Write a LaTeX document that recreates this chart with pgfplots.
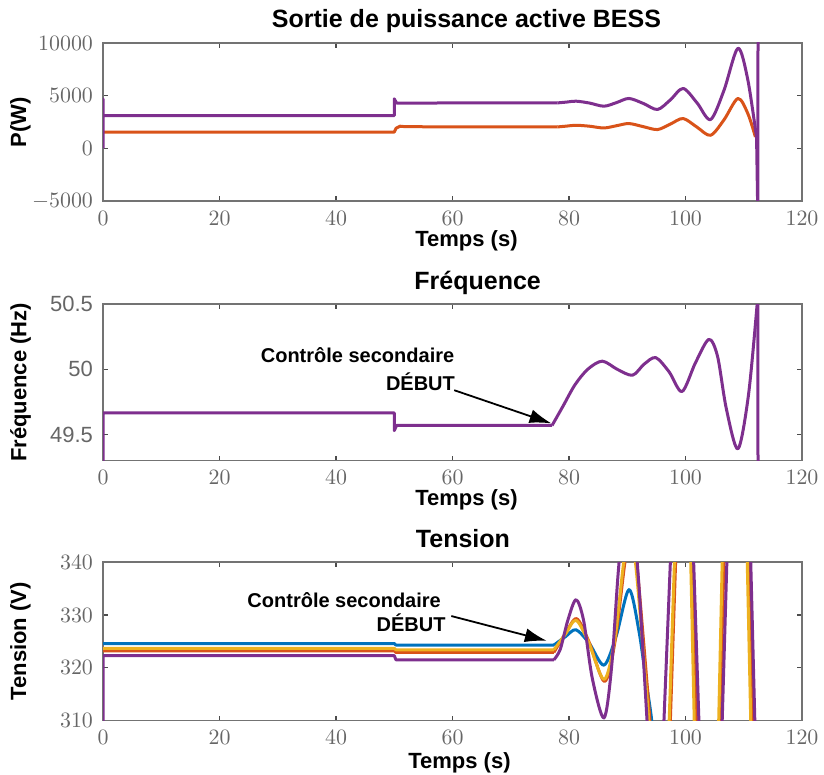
\documentclass[border=0pt]{standalone}
\usepackage{fontspec}
\setmainfont{Liberation Sans}
\usepackage{pgfplots}
\pgfplotsset{compat=1.18}
\usetikzlibrary{arrows.meta}
\definecolor{mblue}{rgb}{0,0.447,0.741}
\definecolor{morange}{rgb}{0.85,0.325,0.098}
\definecolor{myellow}{rgb}{0.929,0.694,0.125}
\definecolor{mpurple}{rgb}{0.494,0.184,0.556}
\tikzset{ann/.style={font=\bfseries\fontsize{10}{12}\selectfont, align=center}}
\pgfplotsset{
  mstyle/.style={
    scale only axis, width=349.5pt,
    xmin=0, xmax=120, xtick={0,20,...,120},
    axis line style={black!55, line width=0.8pt},
    tick style={black!70, line width=0.6pt}, major tick length=2.5pt,
    tick align=inside,
    ticklabel style={font=\fontsize{11}{13}\selectfont, text=black!60},
    xticklabel style={yshift=-1.5pt},
    yticklabel style={xshift=-1.5pt},
    scaled y ticks=false,
    /pgf/number format/set thousands separator={},
    xlabel={Temps (s)},
    label style={font=\bfseries\fontsize{11}{13}\selectfont},
    xlabel style={at={(axis description cs:0.52,-0.285)}, anchor=base},
    ylabel style={at={(axis description cs:-0.118,0.5)}, anchor=center, rotate=0},
    title style={font=\bfseries\fontsize{12.5}{14}\selectfont, anchor=base},
    every axis plot/.append style={line width=1.5pt, line join=round},
  },
}
\begin{document}
\begin{tikzpicture}
\useasboundingbox (0,0) rectangle (412pt,387.5pt);
% ---------------- Top: power ----------------
\begin{axis}[mstyle, at={(51.5pt,287pt)}, anchor=south west, height=79pt,
  ymin=-5000, ymax=10000, ytick={-5000,0,5000,10000},
  ylabel={P(W)},
  title={Sortie de puissance active BESS},
  title style={at={(axis description cs:0.52,1.02)}}]
\addplot[morange] coordinates {(0,1540) (50,1540) (50.3,1900) (51,2100) (52,2050) (78,2030)};
\addplot[morange, smooth] coordinates {(78,2030) (79.6,2110) (81.2,2190) (83.5,2100) (86,1933) (88.2,2150) (90.3,2352) (92.8,2050) (95.2,1781) (97.4,2300) (99.6,2829) (102,2000) (104.3,1238) (106.6,2700) (109,4733) (110.7,3300) (112,1076)};
\addplot[mpurple] coordinates {(0,0) (0,4700) (0,3100) (50,3100) (50,4700) (50.4,4300) (78,4310)};
\addplot[mpurple, smooth] coordinates {(78,4310) (79.6,4390) (81.2,4476) (83.5,4300) (86,4000) (88.2,4350) (90.3,4733) (92.8,4250) (95.2,3686) (97.4,4600) (99.6,5686) (102,4300) (104.3,2733) (106.6,5500) (109,9495) (110.7,6500) (112.2,1000)};
\addplot[mpurple] coordinates {(112.2,1000) (112.4,-6000) (112.45,11000)};
\end{axis}
% ---------------- Middle: frequency ----------------
\begin{axis}[mstyle, at={(51.5pt,157.2pt)}, anchor=south west, height=78.2pt,
  ymin=49.3, ymax=50.5, ytick={49.5,50,50.5},
  yticklabels={49.5,50,50.5},
  ylabel={Fréquence (Hz)},
  title={Fréquence},
  title style={at={(axis description cs:0.536,1.02)}}]
\addplot[mpurple] coordinates {(0,49.2) (0,49.667) (50,49.667) (50,49.53) (50.4,49.57) (77.1,49.57)};
\addplot[mpurple, smooth] coordinates {(77.1,49.57) (79,49.72) (81,49.88) (83.2,50.0) (85.7,50.063) (88.3,50.0) (90.9,49.955) (92.9,50.04) (94.9,50.09) (97.2,49.98) (99.4,49.83) (101.7,50.05) (104,50.23) (105.5,50.1) (107,49.7) (109,49.39) (110.8,49.8) (112.3,50.5) (112.4,50.6)};
\addplot[mpurple] coordinates {(112.4,50.6) (112.45,49.2)};
\node[ann] at (axis cs:43.7,50.11) {Contrôle secondaire};
\node[ann] at (axis cs:54.5,49.905) {DÉBUT};
\draw[black, line width=0.9pt, -{Latex[length=11pt,width=7pt]}] (axis cs:60.3,49.84) -- (axis cs:77.0,49.585);
\end{axis}
% ---------------- Bottom: voltage ----------------
\begin{axis}[mstyle, at={(51.5pt,27.2pt)}, anchor=south west, height=79.2pt,
  ymin=310, ymax=340, ytick={310,320,330,340},
  ylabel={Tension (V)},
  title={Tension},
  xlabel style={at={(axis description cs:0.51,-0.3)}},
  title style={at={(axis description cs:0.515,1.02)}}]
% blue
\addplot[mblue] coordinates {(0,324.6) (50,324.6) (50.3,324.3) (77.4,324.3)};
\addplot[mblue, smooth] coordinates {(77.4,324.3) (79.4,325.9) (81.2,327.2) (83.5,324.6) (86,320.5) (88.1,326) (90.3,334.8) (92,327) (93.3,317) (94.2,310) (95,300)};
% orange
\addplot[morange] coordinates {(0,323.2) (50,323.2) (50.3,322.9) (77.4,322.9)};
\addplot[morange, smooth] coordinates {(77.4,322.9) (79.4,326.5) (81.3,329.3) (83.4,325) (86.1,317.4) (87.9,325) (89.6,340) (90.6,346) (91.6,340) (92.8,325) (93.9,310) (94.9,295)};
\addplot[morange] coordinates {(94.9,295) (97.4,310) (98.3,340) (99.5,365) (101.2,340) (101.9,310) (103,290) (105.9,310) (106.6,340) (108,365) (110.8,340) (111.5,310) (112.5,290)};
% yellow
\addplot[myellow] coordinates {(0,323.7) (50,323.7) (50.3,323.4) (77.4,323.4)};
\addplot[myellow, smooth] coordinates {(77.4,323.4) (79.4,326.4) (81.2,329.0) (83.3,325) (86,317.8) (87.8,325) (89.4,340) (90.4,345) (91.4,340) (92.6,325) (93.7,310) (94.7,295)};
\addplot[myellow] coordinates {(94.7,295) (97.2,310) (98.1,340) (99.3,365) (100.9,340) (101.5,310) (103,290) (105.7,310) (106.3,340) (108,365) (110.6,340) (111.2,310) (112.3,290)};
% purple
\addplot[mpurple] coordinates {(0,305) (0,322.3) (50,322.3) (50.3,321.5) (77.4,321.5)};
\addplot[mpurple, smooth] coordinates {(77.4,321.5) (78.5,323.5) (79.8,329) (81.2,332.9) (82.5,329) (84,318) (86,310.5) (87.3,320) (88.6,340) (90.1,352) (91.7,340) (93.4,310) (94.5,290)};
\addplot[mpurple] coordinates {(94.5,290) (96.3,310) (97.4,340) (99,370) (101.4,340) (102.3,310) (104,285) (106.3,310) (107.1,340) (109,370) (111.2,340) (111.9,310) (113,290)};
\node[ann] at (axis cs:41.4,332.9) {Contrôle secondaire};
\node[ann] at (axis cs:52.9,328.6) {DÉBUT};
\draw[black, line width=0.9pt, -{Latex[length=11pt,width=7pt]}] (axis cs:59.8,329.8) -- (axis cs:76.2,325.1);
\end{axis}
\end{tikzpicture}
\end{document}
